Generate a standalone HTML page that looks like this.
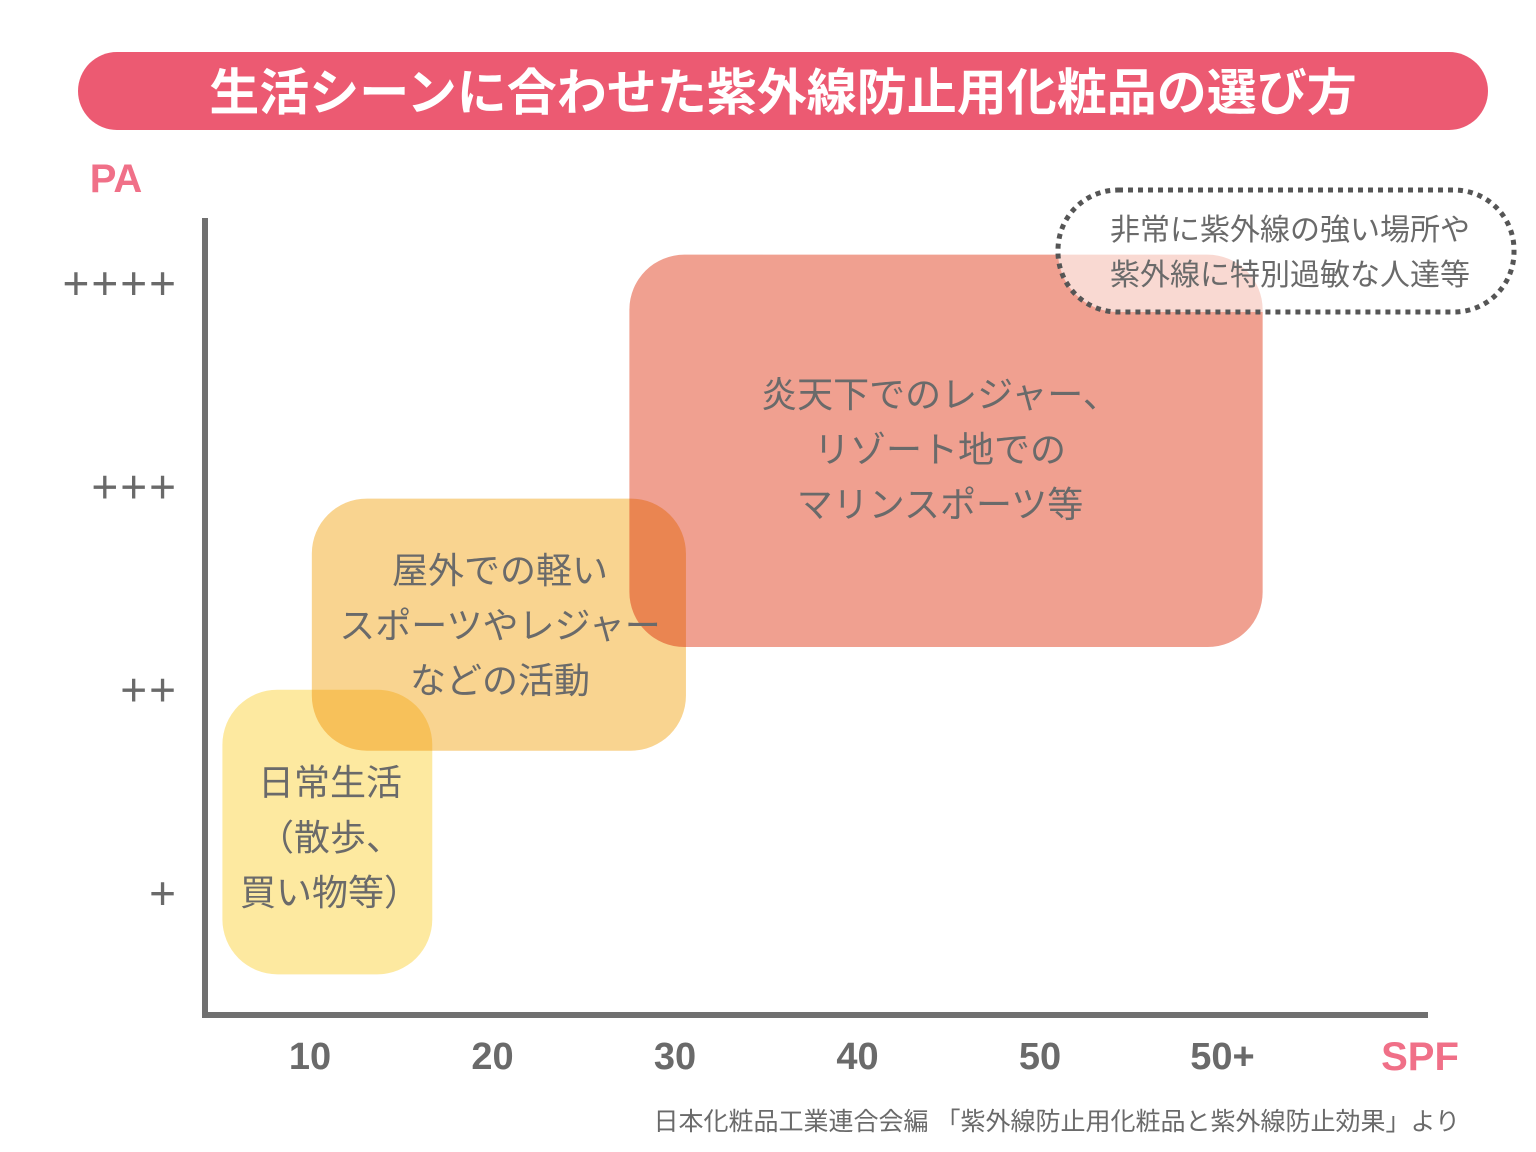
<!DOCTYPE html>
<html><head><meta charset="utf-8"><style>
body{margin:0;background:#fff;}
svg{display:block;font-family:"Liberation Sans","Noto Sans CJK JP",sans-serif;}
</style></head><body>
<svg id="chart" width="1536" height="1152" viewBox="0 0 1536 1152">
<rect x="78" y="52" width="1410" height="78" rx="39" fill="#ec5a72"/>
<text x="783" y="110" text-anchor="middle" font-size="50" font-weight="bold" fill="#fff">生活シーンに合わせた紫外線防止用化粧品の選び方</text>
<text x="116" y="192" text-anchor="middle" font-size="40" font-weight="bold" fill="#f07088">PA</text>
<text x="1420" y="1070" text-anchor="middle" font-size="40" font-weight="bold" fill="#f07088">SPF</text>
<g id="regions"></g>
<g id="axes"></g>
<g id="ticks"></g>
<rect x="1058" y="190" width="456" height="122" rx="60" fill="rgba(255,255,255,0.6)" stroke="#555" stroke-width="5" stroke-dasharray="5 5"/>
<text x="1290" y="240" text-anchor="middle" font-size="30" fill="#6a6a6a">非常に紫外線の強い場所や</text>
<text x="1290" y="285" text-anchor="middle" font-size="30" fill="#6a6a6a">紫外線に特別過敏な人達等</text>
<text x="1460" y="1130" text-anchor="end" font-size="25" fill="#6a6a6a">日本化粧品工業連合会編 「紫外線防止用化粧品と紫外線防止効果」より</text>
</svg>
<script>
const xTickValues=[10,20,30,40,50,60];
const xTickLabels=["10","20","30","40","50","50+"];
const yTickValues=[1,2,3,4];
const yTickLabels=["+","++","+++","++++"];
const regionNames=["daily-life","outdoor-light","resort-sports"];
const regionSpfMin=[5.2,10.1,27.5];
const regionSpfMax=[16.7,30.6,62.2];
const regionPaMin=[0.6,1.7,2.21];
const regionPaMax=[2.0,2.94,4.14];
const regionColors=["#fde9a0","#f9d490","#f0a090"];
const regionLabels=[["日常生活","（散歩、","買い物等）"],["屋外での軽い","スポーツやレジャー","などの活動"],["炎天下でのレジャー、","リゾート地での","マリンスポーツ等"]];
const regionLabelX=[330,500,940];
const regionLabelY=[795,583,407];
const X=v=>310+(v-10)*18.25;
const Y=v=>893-(v-1)*203.3;
const NS="http://www.w3.org/2000/svg";
function mk(t,a,p){const e=document.createElementNS(NS,t);for(const k in a)e.setAttribute(k,a[k]);p.appendChild(e);return e;}
const rg=document.getElementById('regions');
regionNames.forEach((n,i)=>{
 const x0=X(regionSpfMin[i]),x1=X(regionSpfMax[i]),y0=Y(regionPaMax[i]),y1=Y(regionPaMin[i]);
 const r=mk('rect',{x:x0,y:y0,width:x1-x0,height:y1-y0,rx:55,fill:regionColors[i],style:'mix-blend-mode:multiply'},rg);
 
 
});
regionNames.forEach((n,i)=>{
 regionLabels[i].forEach((l,j)=>{
  const t=mk('text',{x:regionLabelX[i],y:regionLabelY[i]+j*55,'text-anchor':'middle','font-size':36,fill:'#6a6a6a'},rg);
  t.textContent=l;
  
  
 });
});
const ax=document.getElementById('axes');
const ya=mk('line',{x1:205,y1:218,x2:205,y2:1015,stroke:'#707070','stroke-width':6},ax);


const xa=mk('line',{x1:202,y1:1015,x2:1428,y2:1015,stroke:'#707070','stroke-width':6},ax);


const tk=document.getElementById('ticks');
xTickValues.forEach((v,i)=>{
 const t=mk('text',{x:X(v),y:1069,'text-anchor':'middle','font-size':38,'font-weight':'bold',fill:'#6a6a6a'},tk);
 t.textContent=xTickLabels[i];
 
 
});
yTickValues.forEach((v,i)=>{
 const t=mk('text',{x:178,y:Y(v)+16,'text-anchor':'end','font-size':46,fill:'#6a6a6a','letter-spacing':'2'},tk);
 t.textContent=yTickLabels[i];
 
 
});
</script>
</body></html>
